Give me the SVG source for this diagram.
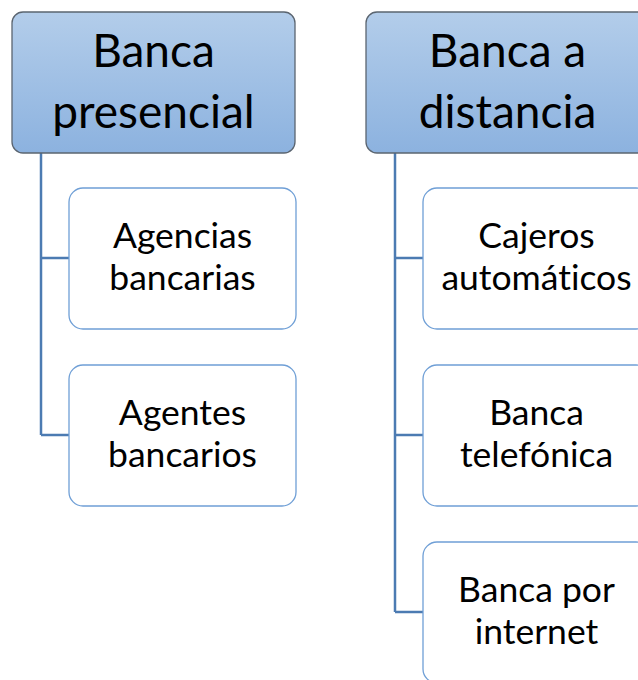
<svg xmlns="http://www.w3.org/2000/svg" width="638" height="680" viewBox="0 0 638 680">
<defs>
<linearGradient id="hg" x1="0" y1="0" x2="0" y2="1">
<stop offset="0" stop-color="#b3cdea"/>
<stop offset="1" stop-color="#8cb2df"/>
</linearGradient>
</defs>
<style>
.h{fill:url(#hg);stroke:#5b6570;stroke-width:1.3}
.c{fill:#ffffff;stroke:#6f9fd6;stroke-width:1.3}
.ht{font-family:Lato,"Open Sans",sans-serif;font-size:46px;fill:#000;text-anchor:middle;font-variant-ligatures:none}
.ct{font-family:Lato,"Open Sans",sans-serif;font-size:35.5px;fill:#000;text-anchor:middle;font-variant-ligatures:none}
.ln{fill:none;stroke:#4c7bb2;stroke-width:2.5}
</style>
<rect width="638" height="680" fill="#ffffff"/>
<g id="connectors">
<path class="ln" d="M41 153 V435 M41 258 H69 M41 435 H69"/>
<path class="ln" d="M395 153 V612 M395 258 H423 M395 435 H423 M395 612 H423"/>
</g>
<g id="banca-presencial">
<rect class="h" x="12" y="12" width="283" height="141" rx="11"/>
<text class="ht" x="153.5" y="67">Banca</text>
<text class="ht" x="153.5" y="128">presencial</text>
</g>
<g id="agencias">
<rect class="c" x="69" y="188" width="227" height="141" rx="14"/>
<text class="ct" x="182.5" y="248">Agencias</text>
<text class="ct" x="182.5" y="290">bancarias</text>
</g>
<g id="agentes">
<rect class="c" x="69" y="365" width="227" height="141" rx="14"/>
<text class="ct" x="182.5" y="425">Agentes</text>
<text class="ct" x="182.5" y="467">bancarios</text>
</g>
<g id="banca-distancia">
<rect class="h" x="366" y="12" width="283" height="141" rx="11"/>
<text class="ht" x="507.5" y="67">Banca a</text>
<text class="ht" x="507.5" y="128">distancia</text>
</g>
<g id="cajeros">
<rect class="c" x="423" y="188" width="227" height="141" rx="14"/>
<text class="ct" x="536.5" y="248">Cajeros</text>
<text class="ct" x="536.5" y="290">automáticos</text>
</g>
<g id="telefonica">
<rect class="c" x="423" y="365" width="227" height="141" rx="14"/>
<text class="ct" x="536.5" y="425">Banca</text>
<text class="ct" x="536.5" y="467">telefónica</text>
</g>
<g id="internet">
<rect class="c" x="423" y="542" width="227" height="141" rx="14"/>
<text class="ct" x="536.5" y="602">Banca por</text>
<text class="ct" x="536.5" y="644">internet</text>
</g>
</svg>
